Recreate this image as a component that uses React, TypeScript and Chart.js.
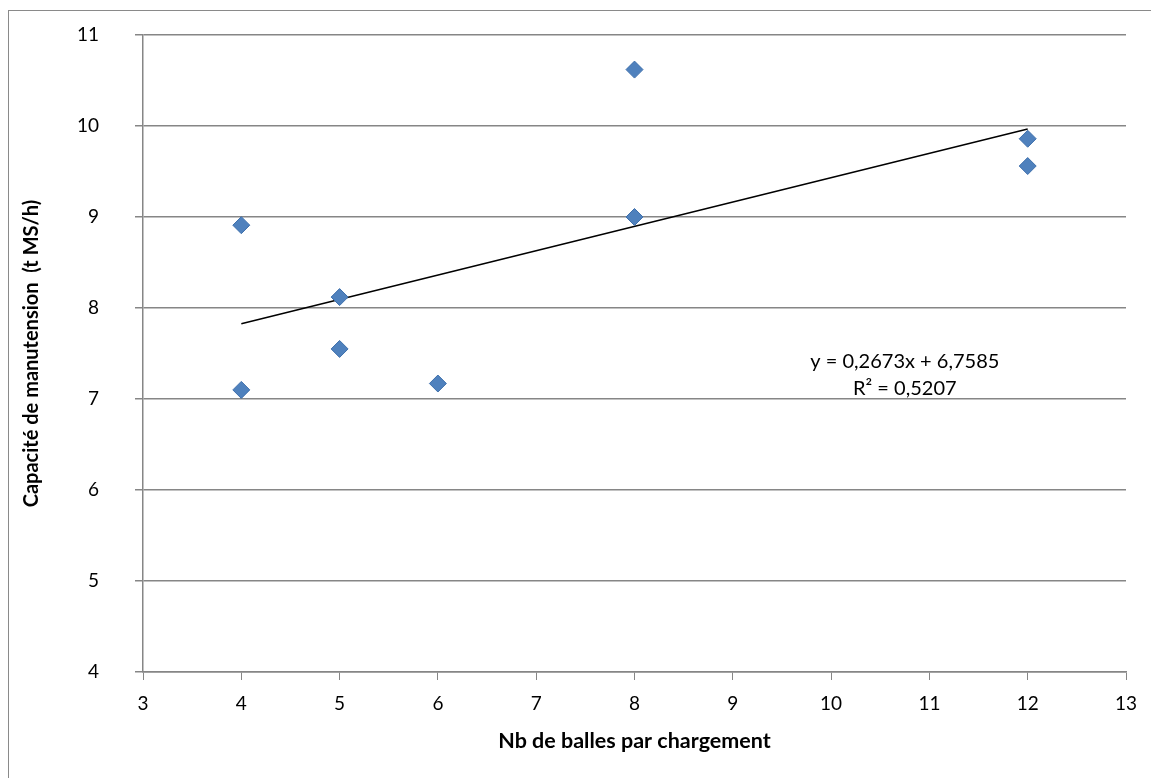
import { useEffect, useRef } from "react";
import { Chart, registerables } from "chart.js";

Chart.register(...registerables);

// Nombre de balles par chargement et capacité de manutention mesurée
const nbBalles = [4, 4, 5, 5, 6, 8, 8, 12, 12];
const capacite = [8.91, 7.1, 8.12, 7.55, 7.17, 10.62, 9.0, 9.86, 9.56];

// Courbe de tendance linéaire (Excel)
const pente = 0.2673;
const ordonnee = 6.7585;
const r2 = 0.5207;
const tendanceX = [4, 12];

const xTitle = "Nb de balles par chargement";
const yTitle = "Capacité de manutension  (t MS/h)";

const fmt = (v: number) => v.toString().replace(".", ",");

const FONT = "Lato, 'Open Sans', sans-serif";
const GRID = "#868686";

export default function App() {
  const ref = useRef<HTMLCanvasElement | null>(null);

  useEffect(() => {
    if (!ref.current) return;
    document.body.style.overflow = "hidden";

    const equationPlugin = {
      id: "equation",
      afterDatasetsDraw(chart: any) {
        const { ctx, scales } = chart;
        const x = scales.x.getPixelForValue(10.75);
        const y1 = scales.y.getPixelForValue(7.41);
        const y2 = scales.y.getPixelForValue(7.11);
        ctx.save();
        ctx.fillStyle = "#000";
        ctx.font = `20px ${FONT}`;
        ctx.textAlign = "center";
        ctx.textBaseline = "middle";
        ctx.fillText(`y = ${fmt(pente)}x + ${fmt(ordonnee)}`, x, y1);
        ctx.fillText(`R² = ${fmt(r2)}`, x, y2);
        ctx.restore();
      },
    };

    const chart = new Chart(ref.current, {
      type: "scatter",
      data: {
        datasets: [
          {
            label: "Capacité",
            data: nbBalles.map((x, i) => ({ x, y: capacite[i] })),
            pointStyle: "rectRot",
            pointRadius: 8.5,
            pointHoverRadius: 8.5,
            backgroundColor: "#4F81BD",
            borderColor: "#3F70AC",
            borderWidth: 1,
          },
          {
            label: "Tendance",
            type: "line",
            data: tendanceX.map((x) => ({ x, y: pente * x + ordonnee })),
            borderColor: "#000",
            borderWidth: 1.5,
            pointRadius: 0,
            fill: false,
          },
        ],
      },
      options: {
        animation: false,
        responsive: false,
        layout: { padding: { top: 35, right: 25, left: 20, bottom: 24 } },
        plugins: {
          legend: { display: false },
          tooltip: { enabled: false },
        },
        scales: {
          x: {
            type: "linear",
            min: 3,
            max: 13,
            ticks: {
              stepSize: 1,
              color: "#000",
              font: { family: FONT, size: 19 },
              padding: 12,
            },
            grid: {
              display: true,
              drawOnChartArea: false,
              drawTicks: true,
              tickLength: 8,
              color: GRID,
            },
            border: { color: GRID, width: 1.5 },
            title: {
              display: true,
              text: xTitle,
              color: "#000",
              font: { family: FONT, size: 21.5, weight: "bold" },
              padding: { top: 10, bottom: 0 },
            },
            afterFit(scale: any) {
              scale.height = 82;
            },
          },
          y: {
            min: 4,
            max: 11,
            ticks: {
              stepSize: 1,
              color: "#000",
              font: { family: FONT, size: 19 },
              padding: 36,
            },
            grid: {
              color: GRID,
              lineWidth: 1.5,
              tickLength: 8,
            },
            border: { color: GRID, width: 1.5 },
            title: {
              display: true,
              text: yTitle,
              color: "#000",
              font: { family: FONT, size: 20, weight: "bold" },
              padding: { top: 0, bottom: 0 },
            },
            afterFit(scale: any) {
              scale.width = 123;
              scale.paddingTop = 0;
              scale.paddingBottom = 0;
            },
          },
        },
      },
      plugins: [equationPlugin],
    });
    return () => chart.destroy();
  }, []);

  return (
    <div style={{ position: "absolute", left: 0, top: 0, width: 1151, height: 778, background: "#fff" }}>
      <div
        style={{
          position: "absolute",
          left: 8,
          top: 10,
          width: 1200,
          height: 800,
          borderTop: "1.5px solid #8a8a8a",
          borderLeft: "1.5px solid #8a8a8a",
        }}
      />
      <canvas ref={ref} width={1151} height={778} style={{ position: "absolute", left: 0, top: 0 }} />
    </div>
  );
}
